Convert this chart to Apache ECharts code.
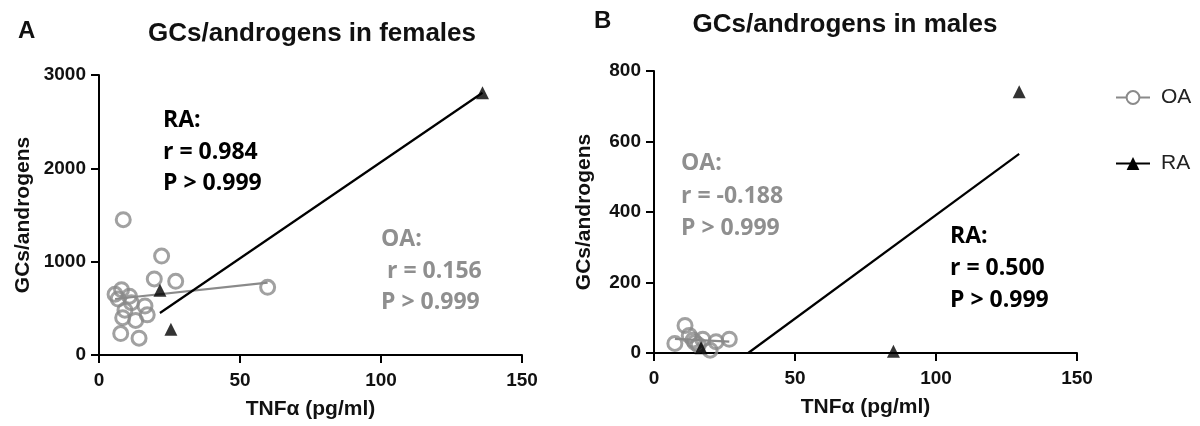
<!DOCTYPE html>
<html>
<head>
<meta charset="utf-8">
<script src="https://cdn.jsdelivr.net/npm/echarts@6/dist/echarts.min.js"></script>
<style>html,body{margin:0;padding:0;background:#fff}#c{width:1200px;height:426px}</style>
</head>
<body>
<div id="c"></div>
<script>
// ---- Data ----
// Panel A: females
const femaleOA = [[8.6,1450],[22.2,1060],[19.6,815],[27.2,790],[59.8,725],[5.7,650],[8.0,700],[10.8,630],[6.8,600],[9.2,480],[16.3,525],[8.4,400],[13.0,370],[17.1,430],[7.7,230],[14.2,180],[11.5,560]];
const femaleRA = [[21.6,695],[25.5,275],[136,2810]];
const femaleOAfit = [[5.7,600],[59.8,775]];
const femaleRAfit = [[21.6,450],[136,2810]];
// Panel B: males
const maleOA = [[11.0,78],[7.4,27],[12.5,50],[13.9,37],[17.3,39],[22.0,32],[26.7,39],[19.9,8],[15.7,23],[14.5,30]];
const maleRA = [[16.7,15],[84.9,5],[129.5,741]];
const maleOAfit = [[7.4,40],[26.7,32]];
const maleRAfit = [[33.4,0],[129.5,565]];
// axes
const xTicks = {min:0, max:150, interval:50};
const yTicksA = {min:0, max:3000, interval:1000};
const yTicksB = {min:0, max:800, interval:200};
const legendNames = ['OA','RA'];
const titles = ['GCs/androgens in females','GCs/androgens in males'];
const panelLetters = ['A','B'];
const annotations = [
  {lines:['RA:','r = 0.984','P > 0.999'], x:163, y:[120,152,183], color:'#000'},
  {lines:['OA:',' r = 0.156','P > 0.999'], x:381, y:[239,271,302], color:'#8f8f8f'},
  {lines:['OA:','r = -0.188','P > 0.999'], x:681, y:[163,196,228], color:'#8f8f8f'},
  {lines:['RA:','r = 0.500','P > 0.999'], x:950, y:[236,268,300], color:'#000'}
];

const GREY = '#8a8a8a';
const AX = {color:'#000', width:2};
const FONT = 'Liberation Sans, Arial';
const lbl = {color:'#111', fontFamily:FONT, fontWeight:'bold', fontSize:19};
function xAxis(i){
  return {gridIndex:i, type:'value', min:xTicks.min, max:xTicks.max, interval:xTicks.interval,
    name:'TNF\u03b1 (pg/ml)', nameLocation:'middle', nameGap:44,
    nameTextStyle:{color:'#111', fontFamily:FONT, fontWeight:'bold', fontSize:21},
    axisLine:{onZero:false, lineStyle:AX}, axisTick:{length:8, lineStyle:AX}, splitLine:{show:false},
    axisLabel:Object.assign({margin:16}, lbl)};
}
function yAxis(i, t){
  return {gridIndex:i, type:'value', min:t.min, max:t.max, interval:t.interval,
    name:'GCs/androgens', nameLocation:'middle', nameGap:i===0?65:59, nameRotate:90,
    nameTextStyle:{color:'#111', fontFamily:FONT, fontWeight:'bold', fontSize:21},
    axisLine:{show:true, onZero:false, lineStyle:AX}, axisTick:{show:true, length:8, lineStyle:AX}, splitLine:{show:false},
    axisLabel:Object.assign({margin:13, formatter:v=>String(v)}, lbl)};
}
function oaScatter(i, d){
  return {name:'OA', type:'scatter', xAxisIndex:i, yAxisIndex:i, data:d, symbol:'circle', symbolSize:14,
    itemStyle:{color:'rgba(0,0,0,0)', borderColor:GREY, borderWidth:3}, z:3, silent:true};
}
function raScatter(i, d){
  return {name:'RA', type:'scatter', xAxisIndex:i, yAxisIndex:i, data:d, symbol:'triangle', symbolSize:13,
    itemStyle:{color:'#000'}, z:4, silent:true};
}
function fit(i, d, c, z){
  return {type:'line', xAxisIndex:i, yAxisIndex:i, data:d, symbol:'none', lineStyle:{color:c, width:2.2}, z:z, silent:true};
}

const graphics = [];
[[panelLetters[0],18,31],[panelLetters[1],594,21]].forEach(([t,x,y])=>graphics.push({type:'text', x:x, y:y,
  style:{text:t, font:'bold 24px "Liberation Sans", Arial', fill:'#111', textVerticalAlign:'middle'}}));
annotations.forEach(a=>a.lines.forEach((s,k)=>graphics.push({type:'text', x:a.x, y:a.y[k],
  style:{text:s, font:'bold 23px "Open Sans"', fill:a.color, textVerticalAlign:'middle'}})));

const option = {
  animation:false,
  title:[
    {text:titles[0], left:307, top:16, textAlign:'center',
      textStyle:{fontFamily:FONT, fontWeight:'bold', fontSize:26, color:'#111'}},
    {text:titles[1], left:840, top:7, textAlign:'center',
      textStyle:{fontFamily:FONT, fontWeight:'bold', fontSize:26, color:'#111'}}
  ],
  legend:{orient:'vertical', left:1110, top:82, itemGap:45, itemWidth:34, itemHeight:16, data:legendNames,
    textStyle:{fontFamily:FONT, fontSize:21, color:'#222', padding:[0,0,0,6]}, selectedMode:false},
  grid:[{left:99, top:75, width:423, height:280},{left:654, top:71, width:423, height:282}],
  xAxis:[xAxis(0), xAxis(1)],
  yAxis:[yAxis(0,yTicksA), yAxis(1,yTicksB)],
  series:[
    {name:'OA', type:'line', xAxisIndex:0, yAxisIndex:0, data:[], symbol:'emptyCircle', symbolSize:12,
      lineStyle:{color:GREY, width:3}, itemStyle:{color:GREY, borderWidth:3}},
    {name:'RA', type:'line', xAxisIndex:0, yAxisIndex:0, data:[], symbol:'triangle', symbolSize:12,
      lineStyle:{color:'#000', width:3}, itemStyle:{color:'#000'}},
    oaScatter(0,femaleOA), raScatter(0,femaleRA), fit(0,femaleOAfit,GREY,2), fit(0,femaleRAfit,'#000',2),
    oaScatter(1,maleOA), raScatter(1,maleRA), fit(1,maleOAfit,GREY,2), fit(1,maleRAfit,'#000',2)
  ],
  graphic:graphics
};
const chart = echarts.init(document.getElementById('c'), null, {renderer:'canvas'});
chart.setOption(option);
</script>
</body>
</html>
